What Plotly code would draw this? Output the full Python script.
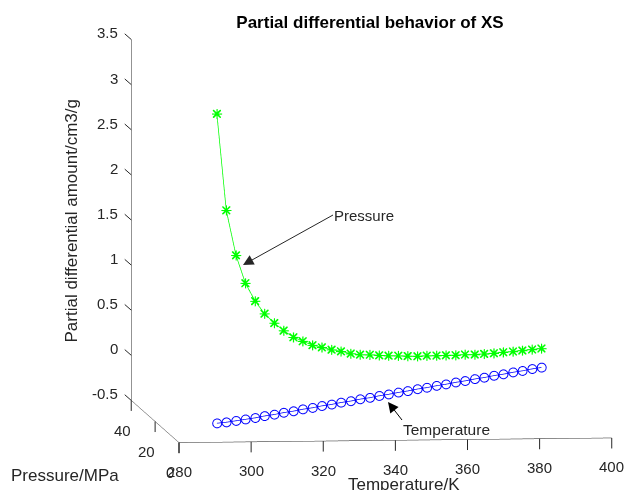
import numpy as np
import plotly.graph_objects as go

# ---- data ----
temperature_K = [290.5, 293.1, 295.8, 298.4, 301.1, 303.7, 306.4, 309.0, 311.7, 314.3,
                 317.0, 319.6, 322.3, 324.9, 327.6, 330.2, 332.9, 335.5, 338.1, 340.8,
                 343.4, 346.1, 348.7, 351.4, 354.0, 356.7, 359.3, 362.0, 364.6, 367.3,
                 369.9, 372.6, 375.2, 377.9, 380.5]
pressure_MPa = [0.0] * 35
pressure_partial = [3.14, 2.07, 1.57, 1.26, 1.06, 0.92, 0.815, 0.73, 0.655, 0.61,
                    0.565, 0.54, 0.513, 0.493, 0.467, 0.455, 0.452, 0.445, 0.44, 0.438,
                    0.433, 0.43, 0.435, 0.435, 0.437, 0.437, 0.443, 0.442, 0.448, 0.454,
                    0.464, 0.471, 0.481, 0.491, 0.501]
temperature_partial = [-0.29, -0.28, -0.265, -0.25, -0.235, -0.215, -0.2, -0.18, -0.165, -0.145,
                       -0.13, -0.11, -0.095, -0.075, -0.06, -0.04, -0.025, -0.005, 0.01, 0.03,
                       0.045, 0.065, 0.08, 0.1, 0.115, 0.135, 0.15, 0.17, 0.185, 0.205,
                       0.22, 0.24, 0.255, 0.275, 0.29]

x_range = [280, 400]
y_range = [0, 40]
z_range = [-0.5, 3.5]
x_ticks = [280, 300, 320, 340, 360, 380, 400]
y_ticks = [0, 20, 40]
z_ticks = [-0.5, 0, 0.5, 1, 1.5, 2, 2.5, 3, 3.5]
z_ticktext = ["-0.5", "0", "0.5", "1", "1.5", "2", "2.5", "3", "3.5"]

FONT = "Liberation Sans, Arial, sans-serif"
AX = "#262626"

fig = go.Figure()
fig.add_trace(go.Scatter3d(
    x=temperature_K, y=pressure_MPa, z=pressure_partial, mode="lines+markers",
    line=dict(color="#00ff00", width=1.5),
    marker=dict(symbol="cross", size=5.5, color="#00ff00"), showlegend=False, hoverinfo="skip"))
fig.add_trace(go.Scatter3d(
    x=temperature_K, y=pressure_MPa, z=pressure_partial, mode="markers",
    marker=dict(symbol="x", size=1.9, color="#00ff00"), showlegend=False, hoverinfo="skip"))
fig.add_trace(go.Scatter3d(
    x=temperature_K, y=pressure_MPa, z=temperature_partial, mode="lines+markers",
    line=dict(color="#0000ff", width=1.5),
    marker=dict(symbol="circle-open", size=5.6, color="#0000ff"), showlegend=False, hoverinfo="skip"))

def axis(rng):
    return dict(title=dict(text=""), range=rng, showgrid=False, zeroline=False,
                showbackground=False, showline=True, linecolor=AX, linewidth=1,
                ticks="", showticklabels=False, showspikes=False, autorange=False)

# camera: MATLAB-like view (az ~ -6.3 deg, el ~ 5.6 deg), orthographic
az = np.radians(6.3)
el = np.radians(5.6)
right = np.array([np.cos(az), -np.sin(az), 0.0])
up = np.array([np.sin(az) * np.sin(el), np.cos(az) * np.sin(el), np.cos(el)])
view = np.array([-np.sin(az) * np.cos(el), -np.cos(az) * np.cos(el), np.sin(el)])
k = 1.777
s = 431.0 / k
shift_px = (58.4, 6.2)
center = -(shift_px[0] * right + shift_px[1] * up) / s
eye = center + 1.5 * view

# tick marks and tick labels anchored at the tick values in data space
scene_ann = []
tick_font = dict(family=FONT, size=15, color=AX)
for t in x_ticks:
    scene_ann.append(dict(x=t, y=y_range[0], z=z_range[0], text="", showarrow=True,
                          arrowhead=0, arrowwidth=1, arrowcolor=AX, ax=0, ay=12, standoff=0))
    scene_ann.append(dict(x=t, y=y_range[0], z=z_range[0], text=str(t), showarrow=False,
                          yshift=-29, xanchor="center", yanchor="middle", font=tick_font))
for p in y_ticks:
    scene_ann.append(dict(x=x_range[0], y=p, z=z_range[0], text="", showarrow=True,
                          arrowhead=0, arrowwidth=1, arrowcolor=AX, ax=0, ay=12, standoff=0))
    scene_ann.append(dict(x=x_range[0], y=p, z=z_range[0], text=str(p), showarrow=False,
                          xshift=-9, yshift=-30, xanchor="center", yanchor="middle", font=tick_font))
for zv, zt in zip(z_ticks, z_ticktext):
    scene_ann.append(dict(x=x_range[0], y=y_range[1], z=zv, text="", showarrow=True,
                          arrowhead=0, arrowwidth=1, arrowcolor=AX, ax=-8, ay=-7, standoff=0))
    scene_ann.append(dict(x=x_range[0], y=y_range[1], z=zv, text=zt, showarrow=False,
                          xshift=-11, yshift=6.5, xanchor="right", yanchor="middle", font=tick_font))

W, H = 625.0, 490.0


def px(xp):
    return xp / W


def py(yp):
    return 1 - yp / H


fig.update_layout(
    width=625, height=490, margin=dict(l=0, r=0, t=0, b=0),
    paper_bgcolor="white",
    title=dict(text="<b>Partial differential behavior of XS</b>", x=px(370), y=py(22),
               xanchor="center", yanchor="middle", font=dict(family=FONT, size=17, color="black")),
    scene=dict(
        domain=dict(x=[0, 1], y=[0, 1]),
        xaxis=axis(x_range), yaxis=axis(y_range), zaxis=axis(z_range),
        aspectmode="manual", aspectratio=dict(x=1 * k, y=1 * k, z=0.833 * k),
        camera=dict(eye=dict(x=eye[0], y=eye[1], z=eye[2]), up=dict(x=0, y=0, z=1),
                    center=dict(x=center[0], y=center[1], z=center[2]),
                    projection=dict(type="orthographic")),
        annotations=scene_ann,
    ),
    annotations=[
        dict(xref="paper", yref="paper", x=px(243), y=py(265), ax=90, ay=-50,
             text="Pressure", showarrow=True, arrowhead=2, arrowsize=2.1, arrowwidth=1,
             arrowcolor=AX, xanchor="left", yanchor="middle", standoff=0, borderpad=0,
             font=dict(family=FONT, size=15, color=AX)),
        dict(xref="paper", yref="paper", x=px(388), y=py(402), ax=14, ay=18,
             text="Temperature", showarrow=True, arrowhead=2, arrowsize=2.1, arrowwidth=1,
             arrowcolor="black", xanchor="left", yanchor="top", standoff=0, borderpad=0,
             font=dict(family=FONT, size=15.5, color=AX)),
        dict(xref="paper", yref="paper", x=px(64.5), y=py(475), showarrow=False,
             text="Pressure/MPa", xanchor="center", yanchor="middle",
             font=dict(family=FONT, size=17, color=AX)),
        dict(xref="paper", yref="paper", x=px(404), y=py(473), showarrow=False,
             text="Temperature/K", xanchor="center", yanchor="top",
             font=dict(family=FONT, size=17, color=AX)),
        dict(xref="paper", yref="paper", x=px(71), y=py(221.5), showarrow=False,
             text="Partial differential amount/cm3/g", textangle=-90,
             xanchor="center", yanchor="middle",
             font=dict(family=FONT, size=17, color=AX)),
    ],
)

fig.write_html(
    "out.html",
    config={"displayModeBar": False},
    post_script="document.body.style.margin='0';document.body.style.overflow='hidden';",
)
